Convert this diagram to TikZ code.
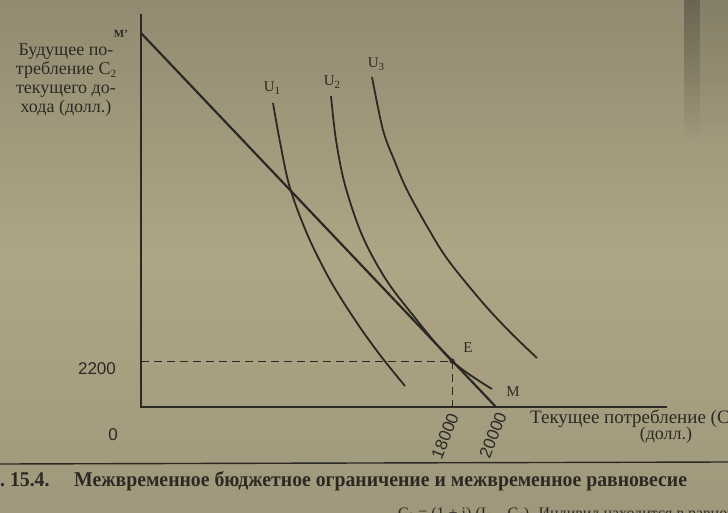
\documentclass[tikz,border=0pt]{standalone}
\usepackage{fontspec}
\setmainfont{Liberation Serif}
\newfontfamily\numfont{Liberation Sans}
\usetikzlibrary{fadings}
\definecolor{paper}{RGB}{174,165,133}
\definecolor{papertop}{RGB}{146,139,113}
\definecolor{paperbot}{RGB}{160,152,124}
\definecolor{ink}{RGB}{44,41,37}
\definecolor{bandcol}{RGB}{80,76,62}
\newcommand{\subs}[1]{\raisebox{-0.4ex}{\fontsize{11}{11}\selectfont #1}}
\tikzset{
  axis/.style={draw=ink, line width=1.3pt},
  budget/.style={draw=ink, line width=2.2pt},
  icurve/.style={draw=ink, line width=1.8pt},
  guide/.style={draw=ink, line width=1pt, dash pattern=on 8pt off 5pt},
  lbl/.style={text=ink, inner sep=0pt, font=\fontsize{15}{17}\selectfont},
  num/.style={text=ink, inner sep=0pt, font=\numfont\fontsize{17}{19}\selectfont},
  big/.style={text=ink, inner sep=0pt, font=\fontsize{18}{20}\selectfont},
}
\begin{document}
\begin{tikzpicture}[x=1pt,y=-1pt]
\useasboundingbox (0,0) rectangle (728,513);
\clip (0,0) rectangle (728,513);
% paper
\shade[top color=papertop, bottom color=paperbot, middle color=paper] (0,0) rectangle (728,513);
\fill[bandcol, opacity=0.6, path fading=south] (684,0) rectangle (700,140);
\fill[bandcol, opacity=0.2, path fading=south] (700,0) rectangle (728,140);

% axes
\coordinate (O) at (141,407);
\coordinate (Ytop) at (141,14);
\coordinate (Xend) at (667,407);
\draw[axis] (Ytop) -- (O) -- (Xend);

% budget line
\coordinate (Mp) at (141,33);
\coordinate (Mb) at (496,407);
\draw[budget] (Mp) -- (Mb);

% indifference curves
\draw[icurve] plot[smooth, tension=0.55] coordinates
  {(273,103) (280,142) (290,188) (308,236) (330,280) (355,320) (380,355) (405,386)};
\draw[icurve] plot[smooth, tension=0.55] coordinates
  {(331,96) (336,140) (345,185) (362,235) (385,278) (412,314) (452,361) (492,389)};
\draw[icurve] plot[smooth, tension=0.55] coordinates
  {(372,77) (383,130) (395,162) (407,190) (428,228) (448,260) (483,303) (510,332) (537,358)};

% equilibrium
\coordinate (E) at (452,361);
\coordinate (Ey) at (141,361);
\coordinate (Ex) at (452,407);
\draw[guide] (Ey) -- (E);
\draw[guide] (E) -- (Ex);
\fill[ink] (E) circle (2.6);

% labels
\node[lbl] (u1) at (272,88) {U\subs{1}};
\node[lbl] (u2) at (332,82) {U\subs{2}};
\node[lbl] (u3) at (376,64) {U\subs{3}};
\node[lbl, font=\bfseries\fontsize{11}{13}\selectfont] (mp) at (121,34) {M'};
\node[lbl] (e) at (468,348) {E};
\node[lbl] (m) at (513,392) {M};

\node[num] (n2200) at (97,369) {2200};
\node[num] (n0) at (113,435) {0};
\node[num, rotate=68] (n18) at (445,436) {18000};
\node[num, rotate=68] (n20) at (493,435) {20000};

\node[big, anchor=base west, font=\fontsize{19}{21}\selectfont] (xl) at (530,423) {Текущее потребление (C\subs{1})};
\node[big] (xl2) at (666,435) {(долл.)};

\node[text=ink, inner sep=0pt, align=center, font=\fontsize{18}{19}\selectfont] (yl) at (66,80)
  {Будущее по-\\требление C\subs{2}\\текущего до-\\хода (долл.)};

% caption
\draw[draw=ink, line width=1.4pt] (0,464) -- (728,462);
\node[text=ink, inner sep=0pt, anchor=base west, xscale=0.94, font=\bfseries\fontsize{21}{23}\selectfont] (cnum) at (0,486) {.~15.4.};
\node[text=ink, inner sep=0pt, anchor=base west, xscale=0.94, font=\bfseries\fontsize{21}{23}\selectfont] (cap) at (74,486)
  {Межвременное бюджетное ограничение и межвременное равновесие};
\node[text=ink, inner sep=0pt, anchor=base west, font=\fontsize{16}{18}\selectfont] (bot) at (398,518)
  {C\subs{2} = (1 + i) (I\subs{1} -- C\subs{1}). Индивид находится в равновесии};
\end{tikzpicture}
\end{document}
